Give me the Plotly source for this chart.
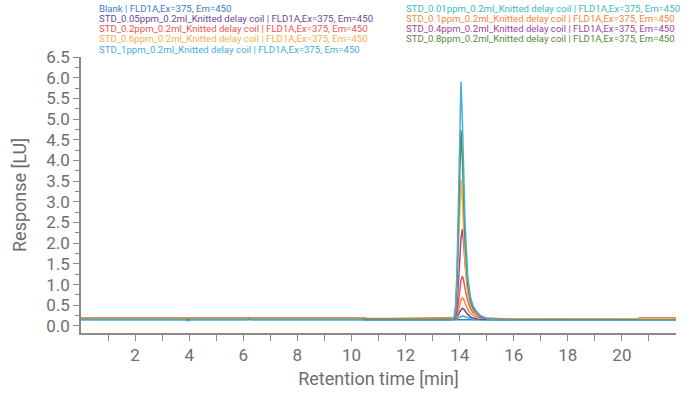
import plotly.graph_objects as go

# ---------------- data ----------------
TIME = [0.0, 3.85, 3.95, 4.05, 6.1, 6.2, 6.3, 10.4, 10.5, 10.6,
        13.7, 13.8, 13.85, 13.9, 13.95, 14.0, 14.05, 14.1, 14.15, 14.2,
        14.3, 14.4, 14.5, 14.65, 14.8, 15.0, 15.3, 15.6,
        16.0, 20.55, 20.65, 22.0]

SERIES_NAMES = [
    "Blank | FLD1A,Ex=375, Em=450",
    "STD_0.01ppm_0.2ml_Knitted delay coil | FLD1A,Ex=375, Em=450",
    "STD_0.05ppm_0.2ml_Knitted delay coil | FLD1A,Ex=375, Em=450",
    "STD_0.1ppm_0.2ml_Knitted delay coil | FLD1A,Ex=375, Em=450",
    "STD_0.2ppm_0.2ml_Knitted delay coil | FLD1A,Ex=375, Em=450",
    "STD_0.4ppm_0.2ml_Knitted delay coil | FLD1A,Ex=375, Em=450",
    "STD_0.6ppm_0.2ml_Knitted delay coil | FLD1A,Ex=375, Em=450",
    "STD_0.8ppm_0.2ml_Knitted delay coil | FLD1A,Ex=375, Em=450",
    "STD_1ppm_0.2ml_Knitted delay coil | FLD1A,Ex=375, Em=450",
]

blank = [0.17, 0.17, 0.15, 0.17, 0.17, 0.19, 0.17, 0.17, 0.16, 0.15,
         0.15, 0.15, 0.15, 0.15, 0.15, 0.15, 0.15, 0.15, 0.15, 0.15,
         0.15, 0.15, 0.15, 0.15, 0.15, 0.15, 0.15, 0.15,
         0.15, 0.15, 0.15, 0.15]
std_001 = [0.15, 0.15, 0.15, 0.15, 0.15, 0.15, 0.15, 0.15, 0.15, 0.14,
           0.15, 0.15, 0.16, 0.17, 0.19, 0.21, 0.23, 0.24, 0.235, 0.22,
           0.20, 0.18, 0.16, 0.15, 0.15, 0.14, 0.14, 0.14,
           0.14, 0.14, 0.14, 0.14]
std_005 = [0.17, 0.17, 0.17, 0.17, 0.17, 0.17, 0.17, 0.17, 0.17, 0.16,
           0.17, 0.17, 0.18, 0.21, 0.26, 0.34, 0.40, 0.43, 0.41, 0.36,
           0.28, 0.22, 0.19, 0.17, 0.16, 0.16, 0.16, 0.16,
           0.15, 0.15, 0.15, 0.15]
std_01 = [0.18, 0.18, 0.18, 0.18, 0.18, 0.18, 0.18, 0.18, 0.18, 0.17,
          0.18, 0.18, 0.20, 0.25, 0.36, 0.52, 0.63, 0.68, 0.64, 0.55,
          0.40, 0.30, 0.25, 0.21, 0.19, 0.18, 0.17, 0.17,
          0.16, 0.16, 0.19, 0.19]
std_02 = [0.19, 0.19, 0.19, 0.19, 0.19, 0.19, 0.19, 0.19, 0.19, 0.17,
          0.19, 0.20, 0.23, 0.33, 0.55, 0.85, 1.10, 1.20, 1.10, 0.90,
          0.60, 0.42, 0.32, 0.25, 0.21, 0.19, 0.18, 0.17,
          0.16, 0.16, 0.19, 0.19]
std_04 = [0.17, 0.17, 0.17, 0.17, 0.17, 0.17, 0.17, 0.17, 0.17, 0.16,
          0.17, 0.18, 0.25, 0.45, 0.90, 1.55, 2.10, 2.34, 2.00, 1.50,
          0.85, 0.52, 0.36, 0.26, 0.21, 0.18, 0.17, 0.16,
          0.15, 0.15, 0.15, 0.15]
std_06 = [0.18, 0.18, 0.18, 0.18, 0.18, 0.18, 0.18, 0.18, 0.18, 0.16,
          0.18, 0.21, 0.36, 0.82, 1.70, 2.80, 3.53, 3.05, 2.20, 1.55,
          0.80, 0.50, 0.36, 0.27, 0.22, 0.19, 0.17, 0.16,
          0.16, 0.16, 0.18, 0.18]
std_08 = [0.16, 0.16, 0.16, 0.16, 0.16, 0.16, 0.16, 0.16, 0.16, 0.15,
          0.16, 0.20, 0.42, 1.05, 2.25, 3.70, 4.73, 4.05, 2.95, 2.05,
          1.00, 0.60, 0.42, 0.30, 0.22, 0.18, 0.16, 0.15,
          0.15, 0.15, 0.15, 0.15]
std_1 = [0.15, 0.15, 0.12, 0.15, 0.15, 0.18, 0.15, 0.15, 0.13, 0.14,
         0.14, 0.20, 0.50, 1.30, 2.80, 4.60, 5.90, 5.00, 3.60, 2.50,
         1.20, 0.70, 0.48, 0.33, 0.24, 0.18, 0.15, 0.14,
         0.14, 0.14, 0.14, 0.14]

SERIES_VALUES = [blank, std_001, std_005, std_01, std_02, std_04, std_06, std_08, std_1]

COLORS = ["#3d7cc9", "#3cbcbc", "#67489b", "#f5883a", "#ef5656",
          "#a2449b", "#f8b04a", "#5a8a3c", "#45aedb"]

X_TICKS = [2, 4, 6, 8, 10, 12, 14, 16, 18, 20]
X_MINOR = [1, 3, 5, 7, 9, 11, 13, 15, 17, 19, 21]
Y_TICKS = [0.0, 0.5, 1.0, 1.5, 2.0, 2.5, 3.0, 3.5, 4.0, 4.5, 5.0, 5.5, 6.0, 6.5]
Y_TICK_LABELS = ["0.0", "0.5", "1.0", "1.5", "2.0", "2.5", "3.0", "3.5",
                 "4.0", "4.5", "5.0", "5.5", "6.0", "6.5"]
Y_MINOR = [0.25, 0.75, 1.25, 1.75, 2.25, 2.75, 3.25, 3.75, 4.25, 4.75,
           5.25, 5.75, 6.25]

# ---------------- figure ----------------
fig = go.Figure()
for name, vals, col in zip(SERIES_NAMES, SERIES_VALUES, COLORS):
    fig.add_trace(go.Scatter(x=TIME, y=vals, mode="lines", name=name,
                             line=dict(color=col, width=1.5), showlegend=False))

W, H = 693, 395
ML, MT = 81, 57
MR = W - 676
MB = H - 333
pw, ph = W - ML - MR, H - MT - MB

# legend as coloured text, two columns filled row-wise (page pixel coords)
col_x = [97, 404]
row_y = [8, 18.3, 28.6, 39, 49.3]
for i, (name, col) in enumerate(zip(SERIES_NAMES, COLORS)):
    r, c = divmod(i, 2)
    fig.add_annotation(
        text=name, xref="paper", yref="paper",
        x=(col_x[c] - ML) / pw, y=(H - MB - row_y[r]) / ph,
        xanchor="left", yanchor="middle", showarrow=False,
        font=dict(family="Roboto", size=9.6, color=col))

axis_col = "#8a8a8a"
text_col = "#6e6e6e"
fig.update_layout(
    width=W, height=H,
    margin=dict(l=ML, r=MR, t=MT, b=MB, autoexpand=False),
    plot_bgcolor="white", paper_bgcolor="white",
    font=dict(family="Roboto", color=text_col),
    xaxis=dict(range=[0, 22], tickvals=X_TICKS, ticks="outside", ticklen=6,
               tickcolor=axis_col, showline=True, linecolor=axis_col, linewidth=1.5,
               showgrid=False, zeroline=False, automargin=False,
               tickfont=dict(size=17, color=text_col),
               minor=dict(tickvals=X_MINOR, ticks="outside", ticklen=6,
                          tickcolor=axis_col, showgrid=False),
               title=dict(text="Retention time [min]", font=dict(size=18, color=text_col),
                          standoff=8)),
    yaxis=dict(range=[-0.17, 6.5], tickvals=Y_TICKS, ticktext=Y_TICK_LABELS,
               ticks="outside", ticklen=6, tickcolor=axis_col,
               showline=True, linecolor=axis_col, linewidth=1.5,
               showgrid=False, zeroline=False, automargin=False,
               tickfont=dict(size=17, color=text_col),
               minor=dict(tickvals=Y_MINOR, ticks="outside", ticklen=4,
                          tickcolor=axis_col, showgrid=False),
               title=dict(text="Response [LU]", font=dict(size=18, color=text_col),
                          standoff=15)),
)

# remove the browser's default 8px body margin so the figure fills the window
fig.write_html("out.html", config={"displayModeBar": False},
               post_script="document.body.style.margin='0';")
